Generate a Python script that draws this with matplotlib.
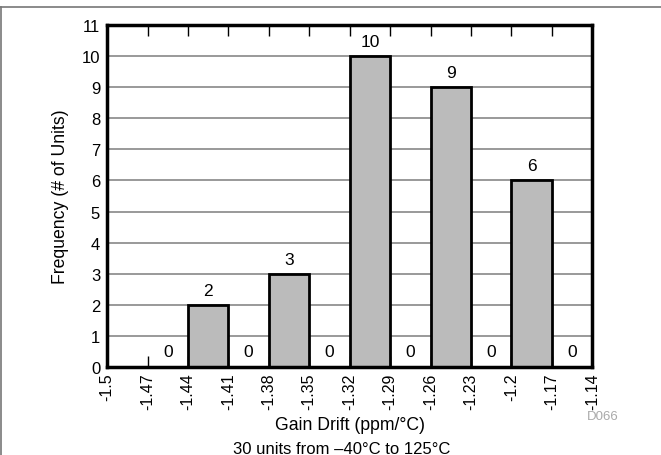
import numpy as np
import matplotlib
matplotlib.use("Agg")
import matplotlib.pyplot as plt
from matplotlib.lines import Line2D

plt.rcParams['font.family'] = ['Liberation Sans', 'DejaVu Sans']

# bin edges (ppm/C) and counts per bin
tick_vals = [-1.5, -1.47, -1.44, -1.41, -1.38, -1.35, -1.32, -1.29, -1.26, -1.23, -1.2, -1.17, -1.14]
tick_labels = ["-1.5", "-1.47", "-1.44", "-1.41", "-1.38", "-1.35", "-1.32", "-1.29",
               "-1.26", "-1.23", "-1.2", "-1.17", "-1.14"]
bin_left = [-1.47, -1.44, -1.41, -1.38, -1.35, -1.32, -1.29, -1.26, -1.23, -1.2, -1.17]
counts = [0, 2, 0, 3, 0, 10, 0, 9, 0, 6, 0]
bin_width = 0.03

fig = plt.figure(figsize=(6.61, 4.56), dpi=100)
ax = fig.add_axes([0.162, 0.193, 0.734, 0.750])

ax.set_axisbelow(True)
ax.yaxis.grid(True, color='#888888', linewidth=1.2)

ax.bar(bin_left, counts, width=bin_width, align='edge',
       color='#bbbbbb', edgecolor='black', linewidth=2, zorder=3)

for x, c in zip(bin_left, counts):
    xc = x + bin_width / 2
    if c == 0:
        ax.text(xc, 0.5, "0", ha='center', va='center', fontsize=12.5, zorder=4)
    else:
        ax.annotate(str(c), (xc, c), xytext=(0, 10.5), textcoords='offset points',
                    ha='center', va='center', fontsize=12.5, zorder=4)

ax.set_xlim(-1.5, -1.14)
ax.set_ylim(0, 11)
ax.set_xticks(tick_vals)
ax.set_xticklabels(tick_labels, rotation=90, fontsize=11.5)
ax.set_yticks(np.arange(0, 12))
ax.tick_params(axis='y', length=0, labelsize=12, pad=5)
ax.tick_params(axis='x', direction='in', length=8, width=1, top=True, pad=4)

for s in ax.spines.values():
    s.set_linewidth(2.5)
    s.set_zorder(5)

ax.set_ylabel("Frequency (# of Units)", fontsize=12.7, labelpad=9)
ax.set_xlabel("Gain Drift (ppm/°C)", fontsize=12.7, labelpad=5)

fig.text(603 / 661, 1 - 417 / 456, "D066", color='#aaaaaa', fontsize=9.5,
         ha='center', va='center')
fig.text(450 / 661, 2 / 456, "30 units from \u201340°C to 125°C", fontsize=12,
         ha='right', va='baseline')

# frame lines of the page
fig.add_artist(Line2D([0, 1], [1 - 8 / 456, 1 - 8 / 456], transform=fig.transFigure,
                      color='#777777', linewidth=1.2))
fig.add_artist(Line2D([1 / 661, 1 / 661], [0, 1 - 8 / 456], transform=fig.transFigure,
                      color='#777777', linewidth=1.2))

fig.savefig("out.png", dpi=100)
